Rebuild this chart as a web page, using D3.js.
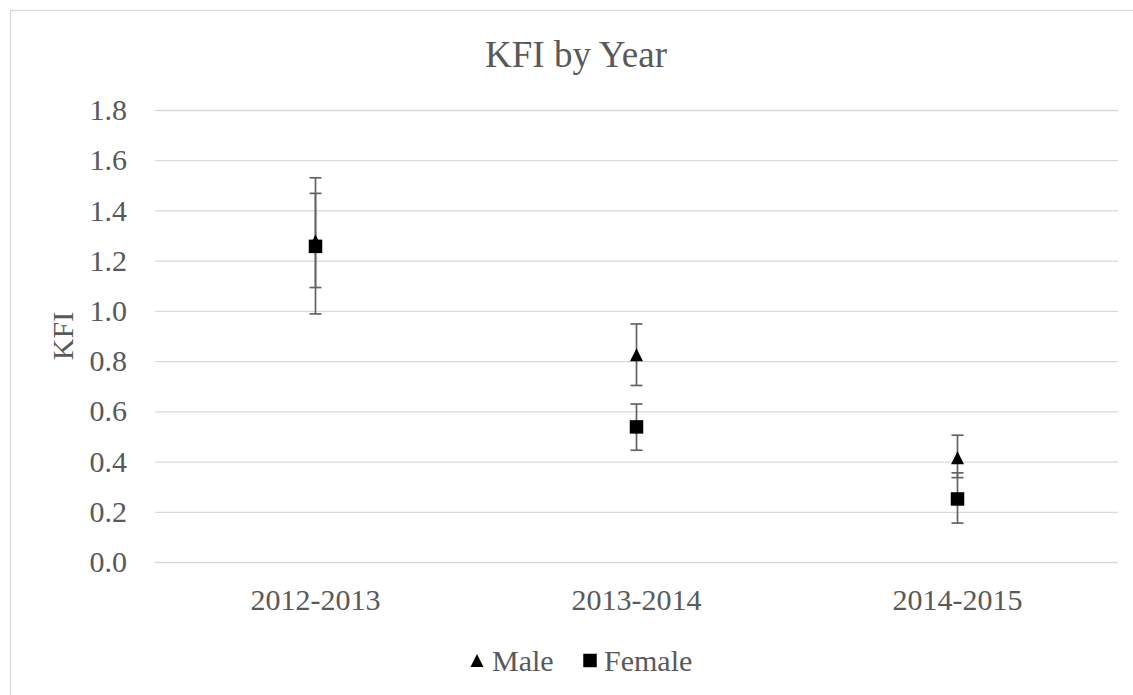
<!DOCTYPE html>
<html>
<head>
<meta charset="utf-8">
<script src="https://cdn.jsdelivr.net/npm/d3@7.9.0/dist/d3.min.js"></script>
<style>
  body { margin: 0; background: #fff; }
</style>
</head>
<body>
<svg id="chart" width="1133" height="695"></svg>
<script>
const years = ['2012-2013', '2013-2014', '2014-2015'];
const maleKfi = [1.278, 0.825, 0.415];
const maleHigh = [1.468, 0.948, 0.505];
const maleLow = [1.093, 0.703, 0.336];
const femaleKfi = [1.257, 0.538, 0.251];
const femaleHigh = [1.530, 0.629, 0.355];
const femaleLow = [0.988, 0.445, 0.155];
const yTicks = [0, 0.2, 0.4, 0.6, 0.8, 1.0, 1.2, 1.4, 1.6, 1.8];

const FONT = "'Liberation Serif', Tinos, 'Times New Roman', 'DejaVu Serif', 'Noto Serif', serif";
const svg = d3.select('#chart');

// excel-style triangle: as wide as it is tall
const tri = {
  draw(ctx, size) {
    const h = Math.sqrt(size);
    ctx.moveTo(0, -h / 2);
    ctx.lineTo(h / 2, h / 2);
    ctx.lineTo(-h / 2, h / 2);
    ctx.closePath();
  }
};

const series = [
  { name: 'Male', vals: maleKfi, hi: maleHigh, lo: maleLow, sym: d3.symbol().type(tri).size(13 * 13) },
  { name: 'Female', vals: femaleKfi, hi: femaleHigh, lo: femaleLow, sym: d3.symbol().type(d3.symbolSquare).size(13.5 * 13.5) }
];

// chart border (runs off the right/bottom of the picture)
svg.append('rect')
  .attr('x', 10.5).attr('y', 10.5)
  .attr('width', 1140).attr('height', 700)
  .attr('fill', 'none').attr('stroke', '#d9d9d9').attr('stroke-width', 1.3);

const x = d3.scaleBand().domain(years).range([155, 1118]);
const y = d3.scaleLinear().domain([0, 1.8]).range([562, 110]);

// gridlines + y labels
const yAxis = svg.append('g')
  .attr('transform', 'translate(155,0)')
  .call(d3.axisLeft(y).tickValues(yTicks).tickFormat(d3.format('.1f')).tickSize(-963).tickPadding(28));
yAxis.select('.domain').remove();
yAxis.attr('font-family', FONT);
yAxis.selectAll('line').attr('stroke', '#d9d9d9').attr('stroke-width', 1.3);
yAxis.selectAll('text').attr('font-size', 30).attr('fill', '#595959');

// category labels
const xAxis = svg.append('g')
  .attr('transform', 'translate(0,562)')
  .call(d3.axisBottom(x).tickSize(0).tickPadding(27));
xAxis.select('.domain').remove();
xAxis.attr('font-family', FONT);
xAxis.selectAll('text').attr('font-size', 30).attr('fill', '#595959');

// title
svg.append('text')
  .attr('x', 576).attr('y', 67)
  .attr('text-anchor', 'middle')
  .attr('font-family', FONT)
  .attr('font-size', 37)
  .attr('fill', '#595959')
  .text('KFI by Year');

// y axis title
svg.append('text')
  .attr('transform', 'translate(73,336) rotate(-90)')
  .attr('text-anchor', 'middle')
  .attr('font-family', FONT)
  .attr('font-size', 30)
  .attr('fill', '#595959')
  .text('KFI');

const cx = (d) => x(d) + x.bandwidth() / 2;

series.forEach((s) => {
  const g = svg.append('g');
  years.forEach((yr, i) => {
    const px = cx(yr);
    g.append('line')
      .attr('x1', px).attr('x2', px)
      .attr('y1', y(s.hi[i])).attr('y2', y(s.lo[i]))
      .attr('stroke', '#636363').attr('stroke-width', 1.7);
    [s.hi[i], s.lo[i]].forEach((v) => {
      g.append('line')
        .attr('x1', px - 6).attr('x2', px + 6)
        .attr('y1', y(v)).attr('y2', y(v))
        .attr('stroke', '#636363').attr('stroke-width', 1.7);
    });
  });
});

series.forEach((s) => {
  svg.append('g')
    .selectAll('path')
    .data(years)
    .join('path')
    .attr('d', s.sym())
    .attr('transform', (d, i) => `translate(${cx(d)},${y(s.vals[i])})`)
    .attr('fill', '#000');
});

// legend
const legend = svg.append('g').attr('font-family', FONT);
const legendX = [477, 590];
const textX = [492, 604];
series.forEach((s, i) => {
  legend.append('path')
    .attr('d', s.sym())
    .attr('transform', `translate(${legendX[i]},660.5)`)
    .attr('fill', '#000');
  legend.append('text')
    .attr('x', textX[i]).attr('y', 671)
    .attr('font-size', 30)
    .attr('fill', '#595959')
    .text(s.name);
});
</script>
</body>
</html>
